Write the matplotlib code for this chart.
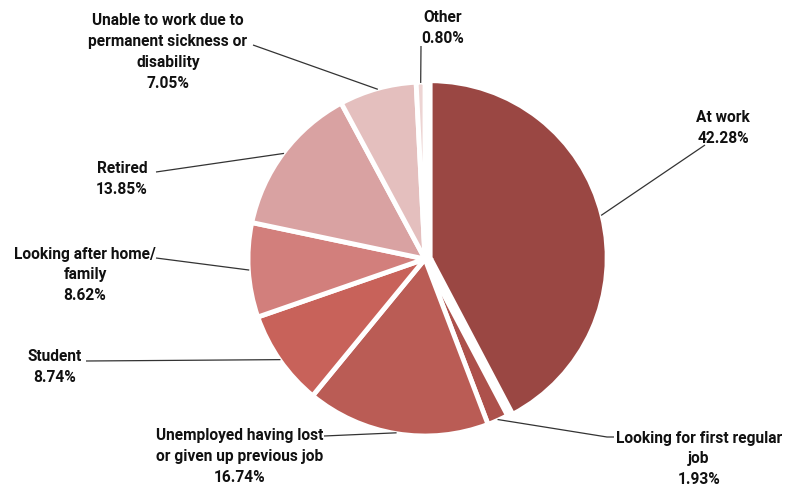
import numpy as np
import matplotlib
matplotlib.use("Agg")
import matplotlib.pyplot as plt

categories = ["At work", "Looking for first regular\njob", "Unemployed having lost\nor given up previous job",
              "Student", "Looking after home/\nfamily", "Retired",
              "Unable to work due to\npermanent sickness or\ndisability", "Other"]
values = [42.28, 1.93, 16.74, 8.74, 8.62, 13.85, 7.05, 0.80]
colors = ["#9A4743", "#AD514B", "#BA5C55", "#C8625A", "#D27F7C", "#D9A2A2", "#E4BFBE", "#EDD4D3"]
explode = [0.03, 0, 0, 0, 0, 0, 0, 0]

W, H = 786, 490
CX, CY, R = 425, 259, 177

plt.rcParams['font.family'] = ['Roboto', 'DejaVu Sans']
fig = plt.figure(figsize=(W / 100, H / 100), dpi=100)
ax = fig.add_axes([0, 0, 1, 1])
ax.set_aspect('equal')
ax.axis('off')

wedges, _ = ax.pie(values, colors=colors, startangle=90, counterclock=False, radius=1.0,
                   explode=explode, wedgeprops=dict(edgecolor='white', linewidth=3.5),
                   center=(0, 0), frame=False)
ax.set_xlim(-CX / R, (W - CX) / R)
ax.set_ylim(-(H - CY) / R, CY / R)


def px(x, y):
    return ((x - CX) / R, (CY - y) / R)


label_specs = [
    dict(pos=(723, 128), line_start=(705, 145), elbow=None),
    dict(pos=(699, 459), line_start=(614, 437), elbow=(607, 437)),
    dict(pos=(240, 457), line_start=(324, 436), elbow=None),
    dict(pos=(55, 367), line_start=(86, 361), elbow=None),
    dict(pos=(85, 275), line_start=(156, 258), elbow=None),
    dict(pos=(122, 179), line_start=(156, 172), elbow=None),
    dict(pos=(168, 52), line_start=(253, 45), elbow=None),
    dict(pos=(443, 28), line_start=(421, 46), elbow=(421, 46)),
]

cum = 0.0
for val, cat, spec, w in zip(values, categories, label_specs, wedges):
    mid = cum + val / 2
    cum += val
    ang = np.deg2rad(90 - mid / 100 * 360)
    cx, cy = w.center
    ex, ey = cx + 0.995 * np.cos(ang), cy + 0.995 * np.sin(ang)
    txt = f"{cat}\n{val:.2f}%"
    tx, ty = px(*spec['pos'])
    ax.text(tx, ty, txt, ha='center', va='center', fontsize=11.2, fontweight='bold',
            color='#111111', linespacing=1.5)
    sx, sy = px(*spec['line_start'])
    if spec['elbow'] is not None:
        bx, by = px(*spec['elbow'])
        ax.plot([sx, bx, ex], [sy, by, ey], color='#333333', lw=0.9, solid_capstyle='butt')
    else:
        ax.plot([sx, ex], [sy, ey], color='#333333', lw=0.9, solid_capstyle='butt')

fig.savefig("out.png", dpi=100, facecolor='white')
